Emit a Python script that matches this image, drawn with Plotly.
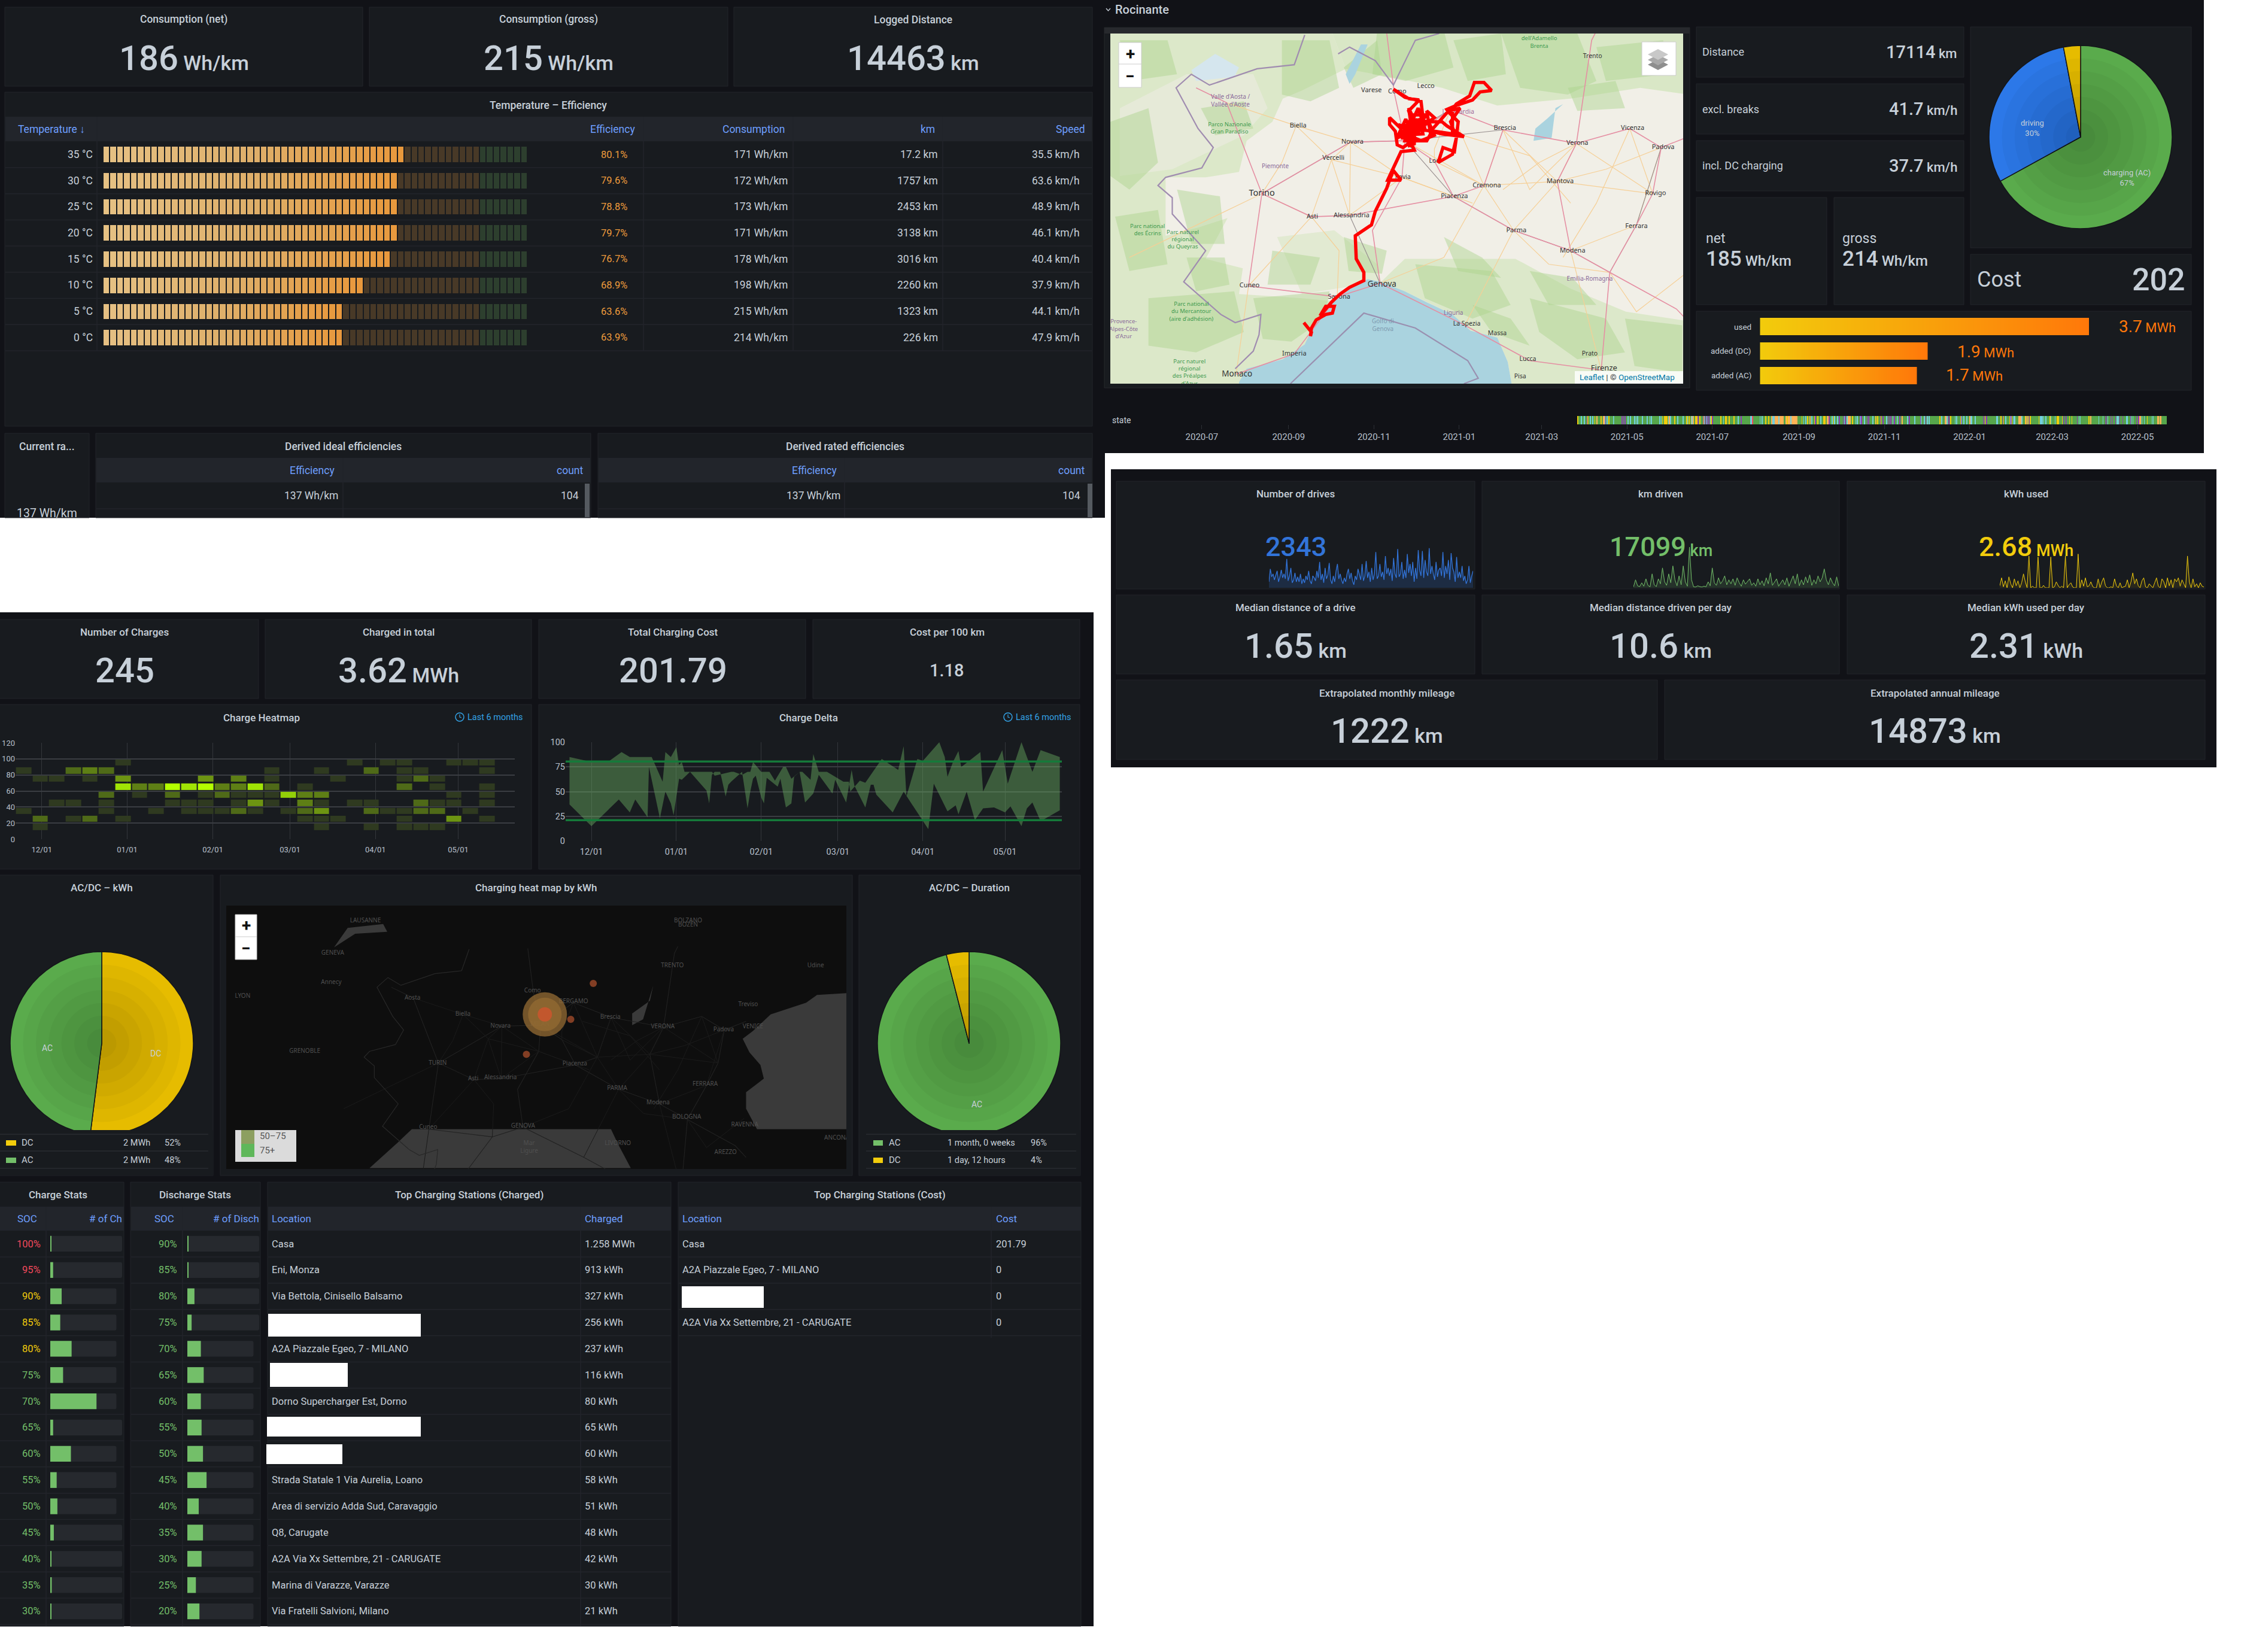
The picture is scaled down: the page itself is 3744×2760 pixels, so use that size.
import pandas as pd
import plotly.graph_objects as go

W, H = 3744, 2760
BG, PANEL, EDGE = "#111217", "#181b1f", "#22252b"
HEAD = "#22252b"
TXT, BLUE_H = "#c7d0d9", "#6e9fff"
GREEN, YELLOW, BLUE, ORANGE, RED = "#73bf69", "#f2cc0c", "#3274d9", "#ff780a", "#f2495c"

# ---------- data ----------
kpi_top = [("Consumption (net)", "186", "Wh/km"), ("Consumption (gross)", "215", "Wh/km"), ("Logged Distance", "14463", "km")]
temps = ["35 °C", "30 °C", "25 °C", "20 °C", "15 °C", "10 °C", "5 °C", "0 °C"]
efficiency = [80.1, 79.6, 78.8, 79.7, 76.7, 68.9, 63.6, 63.9]
consumption = [171, 172, 173, 171, 178, 198, 215, 214]
km_logged = ["17.2", "1757", "2453", "3138", "3016", "2260", "1323", "226"]
speed = [35.5, 63.6, 48.9, 46.1, 40.4, 37.9, 44.1, 47.9]

route_lon = [8.13,8.21,8.20,8.21,8.26,8.36,8.43,8.45,8.36,8.30,8.42,8.51,8.61,8.76,8.76,8.71,8.68,8.67,8.84,8.88,9.00,9.03,9.07,9.15,9.01,9.07,9.15,9.29,9.25,9.17,9.11,9.09,9.03,9.03,9.15,9.27,9.23,9.30,9.34,9.23,9.07,9.19,9.36,9.38,9.30,9.21,9.19,9.42,9.46,9.42,9.50,9.38,9.27,9.23,9.30,9.42,9.58,9.63,9.81,9.58,9.46,9.65,9.77,9.67,9.73,9.71,9.59,9.54,9.69,9.73,9.75,9.65,9.63,9.73,9.90,9.98,10.10,10.02,9.92,9.87,9.73,9.69,9.69,9.50,9.23,9.11,9.30,9.42,9.27,9.19,9.30,9.15,9.27,9.36,9.38,9.12,9.20,9.28,9.35,9.22,9.12,9.30,9.40,9.33,9.25,9.16,9.36,9.50,9.44,9.26,9.20,9.30,9.22]
route_lat = [44.12,44.05,44.02,44.08,44.14,44.18,44.19,44.24,44.24,44.17,44.27,44.33,44.38,44.43,44.49,44.55,44.59,44.76,44.84,44.94,45.11,45.17,45.24,45.17,45.17,45.26,45.38,45.39,45.45,45.41,45.43,45.53,45.58,45.63,45.55,45.60,45.68,45.73,45.76,45.77,45.84,45.78,45.75,45.63,45.57,45.51,45.46,45.46,45.51,45.68,45.63,45.57,45.51,45.70,45.60,45.60,45.60,45.57,45.49,45.51,45.53,45.68,45.70,45.60,45.48,45.38,45.41,45.30,45.36,45.48,45.60,45.67,45.69,45.72,45.76,45.82,45.83,45.89,45.89,45.79,45.73,45.69,45.51,45.53,45.55,45.48,45.55,45.65,45.65,45.53,45.48,45.48,45.53,45.58,45.51,45.50,45.62,45.47,45.62,45.55,45.58,45.52,45.55,45.70,45.58,45.52,45.46,45.50,45.60,45.62,45.47,45.44,45.42]

sea_lon = [7.45,7.53,7.91,8.14,8.20,8.30,8.45,8.65,8.80,8.94,9.19,9.42,9.69,9.88,10.16,10.27,10.31,10.31,7.45]
sea_lat = [43.68,43.78,43.85,43.96,44.05,44.17,44.28,44.39,44.44,44.42,44.35,44.27,44.18,44.06,44.01,43.83,43.67,43.6,43.6]
alps_w_lon = [6.1,8.42,8.57,8.11,7.91,7.80,7.53,7.45,7.10,6.68,6.68,7.02,7.33,7.10,7.49,7.45,8.11,8.42,8.14,7.91,7.53,7.45,6.1]
alps_w_lat = [46.27,46.27,45.99,45.83,45.77,45.60,45.46,45.23,45.19,45.19,44.76,44.82,44.89,44.59,44.52,44.33,44.30,44.28,43.96,43.85,43.78,43.67,43.67]
alps_n_lon = [8.42,12.17,12.17,11.66,10.93,10.16,9.58,9.11,8.57]
alps_n_lat = [46.27,46.27,45.80,45.85,45.77,45.72,45.85,45.92,45.99]
apen_lon = [8.94,9.19,9.78,10.35,10.93,11.51,12.17,12.17,10.31,10.27,10.16,9.88,9.69,9.42,9.19]
apen_lat = [44.42,44.59,44.59,44.59,44.37,44.20,44.13,43.67,43.67,43.83,44.01,44.06,44.18,44.27,44.35]
hills_lon = [7.85,8.45,8.90,8.94,8.65,8.11]
hills_lat = [44.75,44.80,44.55,44.42,44.39,44.33]
pale_lon = [6.9,7.6,7.75,7.5,7.05,6.75,6.2,6.2]
pale_lat = [45.95,45.95,45.7,45.5,45.35,45.25,45.2,45.7]
forest_lon = [[6.1,6.5,6.6,6.3,6.1],[7.9,8.4,8.5,8.2,7.9],[8.9,9.6,9.7,9.2,8.85],[10.2,11.0,11.2,10.9,10.4],[9.3,10.1,10.3,9.9,9.4],[10.5,11.3,11.5,11.0,10.6],[6.5,7.4,7.5,7.0,6.5],[7.6,8.4,8.35,8.0,7.7],[6.8,7.25,7.3,6.95],
              [7.05,7.5,7.6,7.2],[6.15,6.6,6.7,6.3],[6.2,6.7,6.8,6.3],[8.55,8.9,8.95,8.65],[9.7,10.2,10.25,9.85],[11.2,11.9,11.95,11.3],[10.9,11.4,11.5,11.0],[8.55,9.0,8.95,8.6],[9.6,10.0,10.2,9.75],[10.5,10.95,11.2,10.7],[11.5,12.1,12.1,11.6],[9.9,10.3,10.5,10.1],[6.9,7.3,7.35,7.0],[7.8,8.3,8.2,7.75]]
forest_lat = [[45.6,45.7,45.3,45.1,45.2],[46.2,46.2,45.85,45.75,45.8],[46.27,46.27,46.0,45.9,45.95],[46.25,46.25,45.9,45.8,45.85],[44.55,44.5,44.25,44.15,44.3],[44.3,44.15,43.9,43.85,44.05],[44.3,44.35,44.05,43.9,43.95],[44.3,44.35,44.15,43.98,44.0],[45.1,45.05,44.7,44.7],
              [45.7,45.75,45.55,45.5],[44.9,44.95,44.55,44.5],[46.2,46.2,45.95,45.9],[46.0,46.2,45.95,45.85],[46.2,46.25,45.95,45.9],[46.15,46.2,45.95,45.9],[45.85,45.9,45.7,45.68],[44.75,44.65,44.48,44.5],[44.75,44.6,44.45,44.5],[44.5,44.45,44.25,44.25],[44.15,44.1,43.75,43.8],[44.25,44.15,43.95,44.05],[44.6,44.6,44.4,44.35],[44.65,44.6,44.4,44.4]]
ice_lon = [6.95,7.2,7.45,7.4,7.0]
ice_lat = [45.98,46.1,46.0,45.93,45.9]
garda_lon = [10.54,10.73,10.77,10.85,10.68,10.56]
garda_lat = [45.46,45.48,45.70,45.73,45.62,45.55]
magg_lon = [8.61,8.67,8.80,8.73,8.57]
magg_lat = [45.88,45.95,46.17,46.17,45.95]
border_lon = [8.14,8.03,7.64,7.14,6.95,6.79,7.02,7.18,7.06,6.68,6.60,6.75,6.75,7.10,6.87,7.26,7.41,7.68,7.66,7.60,7.41]
border_lat = [46.24,46.02,45.99,45.87,45.95,45.85,45.55,45.41,45.26,45.19,45.13,45.04,44.92,44.65,44.42,44.18,44.12,44.18,44.03,43.91,43.78]
swiss_lon = [8.49,8.61,8.88,9.07,9.3,9.55]
swiss_lat = [46.10,46.15,46.05,45.87,46.2,46.25]
seaborder_lon = [7.99,8.76,9.30,9.85,9.96,9.81]
seaborder_lat = [43.67,44.19,44.08,43.84,43.71,43.67]
motor_lon = [7.69,8.62,9.19,9.67,10.22,10.99,11.55,11.88,12.2,None,9.19,9.50,9.70,10.33,10.93,11.34,11.25,None,7.69,8.21,8.61,9.70,10.02,10.22,None,9.19,9.16,8.85,8.93,None,7.42,8.03,8.48,8.93,9.82,10.50,11.25,None,7.69,7.55,8.48,None,10.99,10.79,10.93,None,11.88,11.79,11.62,11.34,12.04,12.2,None,7.69,7.32,7.0,None,9.19,9.08,9.0,None,10.99,11.12,11.15,11.2]
motor_lat = [45.07,45.45,45.46,45.69,45.54,45.44,45.55,45.41,45.5,None,45.46,45.31,45.05,44.80,44.65,44.49,43.77,None,45.07,44.90,44.91,45.05,45.13,45.54,None,45.46,45.19,44.8,44.41,None,43.74,43.89,44.31,44.41,44.10,43.84,43.77,None,45.07,44.39,44.31,None,45.44,45.16,44.65,None,45.41,45.07,44.84,44.49,44.22,44.1,None,45.07,45.74,45.85,None,45.46,45.81,46.25,None,45.44,46.07,46.2,46.27]
minor_lon = [8.62,8.42,8.61,None,10.02,10.79,11.79,None,10.33,9.82,None,10.93,11.25,None,10.22,10.02,10.33,None,9.16,9.70,None,9.50,10.02,None,10.79,10.99,None,11.62,10.93,None,8.21,7.55,None,8.05,8.42,None,7.55,7.42,None,7.32,8.05,8.62,None,6.3,7.69,8.21,None,10.22,10.5,10.99,None,9.67,9.5,9.50,None,10.02,9.6,8.93,None,11.55,11.2,10.85,None,11.34,11.62,12.17,
             None,8.42,9.16,None,8.62,9.16,9.9,None,9.19,10.02,None,9.67,10.02,None,10.22,10.79,None,10.79,10.33,None,9.16,8.61,None,8.61,8.62,None,10.99,11.79,None,11.55,11.79,None,11.88,11.62,None,8.21,8.42,None,7.69,7.9,8.05,None,10.99,10.6,10.22,None,11.88,11.3,10.79,None,10.33,10.7,11.34,None,8.21,8.5,8.48,None,9.8,10.5,10.93]
minor_lat = [45.45,45.32,44.91,None,45.13,45.16,45.07,None,44.80,44.10,None,44.65,43.77,None,45.54,45.13,44.80,None,45.19,45.05,None,45.31,45.13,None,45.16,45.44,None,44.84,44.65,None,44.90,44.39,None,45.57,45.32,None,44.39,43.74,None,45.74,45.57,45.45,None,44.6,45.07,44.90,None,45.54,45.1,45.44,None,45.69,45.4,45.31,None,45.13,44.6,44.41,None,45.55,45.0,44.6,None,44.49,44.2,44.5,
             None,45.32,45.19,None,45.45,45.19,45.0,None,45.46,45.13,None,45.69,45.13,None,45.54,45.16,None,45.16,44.80,None,45.19,44.91,None,44.91,45.45,None,45.44,45.07,None,45.55,45.07,None,45.41,44.84,None,44.90,45.32,None,45.07,45.3,45.57,None,45.44,45.3,45.1,None,45.41,45.25,45.16,None,44.80,44.55,44.49,None,44.90,44.65,44.31,None,45.5,45.35,45.0]
rail_lon = [9.19,9.70,10.33,10.93,11.34,None,7.69,8.62,9.19,10.22,None,8.61,8.93,None,11.34,11.62,11.88,None,9.19,9.45,9.67]
rail_lat = [45.46,45.05,44.80,44.65,44.49,None,45.07,45.45,45.46,45.54,None,44.91,44.41,None,44.49,44.84,45.41,None,45.46,45.6,45.69]

place_names = ["Genova","Torino","Novara","Vercelli","Biella","Varese","Como","Lecco","Brescia","Verona","Vicenza","Padova","Mantova","Cremona","Piacenza","Parma","Modena","Ferrara","Rovigo","Alessandria","Asti","Cuneo","Savona","Imperia","Monaco","La Spezia","Massa","Lucca","Pisa","Prato","Firenze","Trento","Pavia","Lodi","Lombardia","Emilia-Romagna","Liguria","Piemonte","Golfo di<br>Genova","Valle d'Aosta /<br>Vallée d'Aoste","Parco Nazionale<br>Gran Paradiso","Parc naturel<br>régional<br>du Queyras","Parc national<br>des Écrins","Parc national<br>du Mercantour<br>(aire d'adhésion)","Parc naturel<br>régional<br>des Préalpes<br>d'Azur","Provence-<br>Alpes-Côte<br>d'Azur","Parco naturale<br>dell'Adamello<br>Brenta"]
place_lon = [8.95,7.69,8.64,8.44,8.07,8.84,9.11,9.41,10.24,11.0,11.58,11.9,10.82,10.05,9.71,10.36,10.95,11.62,11.82,8.63,8.22,7.56,8.50,8.03,7.43,9.84,10.16,10.48,10.40,11.13,11.28,11.16,9.17,9.51,9.75,11.13,9.70,7.83,8.96,7.36,7.35,6.86,6.49,6.95,6.93,6.24,10.6]
place_lat = [44.40,45.07,45.45,45.33,45.57,45.83,45.82,45.86,45.55,45.44,45.55,45.41,45.16,45.13,45.05,44.80,44.65,44.83,45.07,44.91,44.90,44.39,44.31,43.89,43.74,44.11,44.04,43.85,43.72,43.89,43.78,46.08,45.19,45.31,45.67,44.44,44.19,45.27,44.10,45.75,45.55,44.73,44.80,44.20,43.75,44.07,46.21]

power_labels = ["charging (AC)", "driving", "charging (DC)"]
power_share = [67, 30, 3]
energy_labels = ["used", "added (DC)", "added (AC)"]
energy_mwh = [3.7, 1.89, 1.76]
energy_text = ["3.7", "1.9", "1.7"]

state_colors = {"G": "#56a64b", "C": "#73d0e0", "P": "#8f3bb8", "Y": "#f2cc0c", "O": "#ffb357", "R": "#f2495c"}
state_part1 = ("Y21 G36 C39 G51 C54 G66 P69 Y71 G81 C84 G93 C96 G103 C105 Y108 G113 O117 G132 Y138 G144 O154 C157 P160 G162 C170 G174 Y177 G197 C200 "
 "G240 P243 G249 P252 G255 P258 G270 C273 G282 C285 G303 C306 G312 C315 G318 C321 G342 C345 G363 C369 G381 C384 G387 C390 G429 C432 G438 C441 G444 Y447 G450 Y468 "
 "G474 C477 O480 C486 G504 Y507 G519 C522 G546 C549 G561 Y570 C573 G576 Y579 G588 O591 C594 O600 G606 Y621 P624 G630 Y633 G648 P651 Y654 C657 P660 G663 P666 C669 "
 "P672 G675 P678 G684 C687 Y690 P696 G735 Y738 G750 C753 G756 Y767 G777 Y780 G801 Y804 G822 C825 G837 P840 G882 C894 R897 G930 C936 G939 C945 G960 Y963 G972 Y978 "
 "G987 O993 C1005 O1026 C1029 O1050 G1062 O1065 Y1071 O1086 C1089 O1119 G1140 Y1146 G1149 C1155 G1158 C1164 G1170 Y1173 G1179 O1185 G1191 C1194 G1206 Y1209 P1212 "
 "G1221 Y1224 G1236 C1239 G1248 Y1260 G1266 O1278 P1281 G1293 C1296 G1302 Y1305 C1308 G1320 C1323 G1329 P1332 G1350 P1353 G1356 C1359 P1362 G1368 C1371 O1386 G1395 "
 "Y1398 G1413 C1416 G1419 C1422 G1434 P1437 C1440 P1443 G1455 C1458 G1470 P1473 G1476 P1479 G1497 C1500")
state_part2 = ("G27 O30 Y33 G36 Y39 G51 P54 Y57 G60 P66 G81 C84 G90 P93 G96 P99 G102 P105 G114 C117 G120 P123 G135 C137 G144 P150 G156 O162 G186 C189 G195 P198 G222 C225 G250 "
 "P253 C256 G270 C273 G279 P282 G285 C288 G294 C297 G345 Y351 G357 C360 G372 O384 C387 G393 P396 G402 Y405 G426 C429 G432 C435 G453 Y456 P459 C462 G465 C471 G483 C486 "
 "G498 O501 C510 G525 C528 G567 P570 G573 P576 Y579 G582 P585 G630 C639 G651 Y657 G663 P669 Y672 G675 C681 G696 Y702 P705 C708 P711 Y714 G716 C726 G741 O756 C762 G774 "
 "Y780 O784 G786 O792 G798 P801 Y804 G843 Y846 G849 C852 C864 G867 C870 G876 C882 G897 Y903 C906 G924 C927 G933 Y945 G960 Y963 G966 P969 G975 P978 G981 P984 G996 Y999 "
 "G1008 Y1011 G1035 P1038 G1044 C1047 G1050 C1053 G1092 Y1098 G1101 O1107 G1143 C1146 G1164 C1167 G1176 P1179 G1182 P1185 G1188 C1191 G1204 P1207 G1212 P1215 G1227 P1230 "
 "G1233 C1245 G1248 P1251 G1263 P1266 G1281 C1290 G1302 P1305 C1308 G1314 C1317 G1332 P1335 G1341 P1347 O1356 G1359 C1362 G1371 C1374 G1386 Y1389 G1410 C1413 G1416 C1419 "
 "G1437 O1446 G1449 O1458 G1485")
month_ticks = ["2020-07","2020-09","2020-11","2021-01","2021-03","2021-05","2021-07","2021-09","2021-11","2022-01","2022-03","2022-05"]

drives_spark = [30,95,55,70,40,60,85,30,55,90,50,70,45,145,35,60,100,25,40,75,30,55,30,70,20,45,25,60,40,85,35,20,60,50,35,85,50,130,40,70,25,100,45,65,125,40,20,60,30,85,120,45,70,40,20,50,30,70,95,45,75,35,15,60,40,95,70,40,120,35,60,135,50,80,30,100,40,70,180,45,60,120,55,80,40,160,70,100,60,95,35,150,70,50,195,55,70,130,45,90,50,170,75,120,60,130,30,100,45,190,90,60,185,50,140,80,60,200,70,110,70,40,130,55,90,100,60,180,50,110,70,140,40,175,100,80,30,155,50,80,50,110,35,60,20,40,110,25,60,85]
km_spark = [4,40,10,6,25,8,45,12,5,70,15,6,45,20,100,30,12,70,25,110,40,10,60,15,110,30,8,205,40,5,4,10,6,4,8,5,30,10,100,25,12,50,20,35,60,15,40,20,45,12,50,25,8,40,18,30,45,12,25,8,45,15,35,10,50,20,75,12,30,45,8,25,40,15,50,8,35,60,20,70,10,40,15,55,25,65,12,40,20,60,30,50,95,40,15,50,25,10,55,8]
kwh_spark = [10,50,5,35,0,55,20,0,45,10,35,0,25,70,30,0,160,0,8,0,0,155,0,0,12,0,0,0,155,0,5,30,12,0,8,0,160,0,15,25,4,0,0,170,0,40,8,50,5,10,30,6,0,0,45,0,30,50,10,0,0,5,0,45,10,0,25,0,5,8,40,0,30,75,20,45,10,0,35,50,5,0,20,10,0,25,50,8,0,45,30,0,50,10,40,0,45,30,50,8,40,20,0,160,30,0,45,5,20,0,25,8,4]

kpi_mid = [("Median distance of a drive", "1.65", "km"), ("Median distance driven per day", "10.6", "km"), ("Median kWh used per day", "2.31", "kWh")]
kpi_low = [("Extrapolated monthly mileage", "1222", "km"), ("Extrapolated annual mileage", "14873", "km")]
charge_kpi = [("Number of Charges", "245", ""), ("Charged in total", "3.62", "MWh"), ("Total Charging Cost", "201.79", ""), ("Cost per 100 km", "1.18", "")]

heat_bins = [15, 25, 35, 45, 55, 65, 75, 85, 95]
heat_cells = {
    95: {6:1, 20:1, 22:1, 23:1, 26:1, 27:1, 28:1},
    85: {0:1, 3:3, 4:4, 5:3, 15:1, 18:1, 21:3, 23:1, 24:1, 28:1},
    75: {1:1, 2:1, 4:1, 6:5, 11:5, 13:4, 15:1, 19:1, 23:1, 24:3, 25:1},
    65: {6:9, 7:4, 8:4, 9:11, 10:9, 11:11, 12:4, 13:4, 14:9, 15:3, 17:1, 23:3, 25:1, 28:1},
    55: {5:3, 7:1, 9:3, 11:1, 12:3, 13:1, 14:1, 15:1, 16:8, 17:4, 18:4, 26:1, 28:1},
    45: {2:1, 3:1, 5:1, 9:1, 10:1, 11:1, 13:1, 14:5, 15:1, 17:4, 18:1, 20:1, 21:1, 24:3, 25:1, 26:1, 28:1},
    35: {0:1, 5:1, 8:1, 10:1, 11:1, 12:1, 13:3, 14:1, 16:1, 17:3, 18:5, 21:3, 22:1, 23:1, 24:3, 25:3, 27:1},
    25: {1:3, 3:1, 4:3, 6:1, 17:1, 18:1, 19:1, 23:1, 26:5, 28:1},
    15: {1:1, 18:1, 21:1, 23:1, 24:1, 25:1},
}
month_days = ["2021-12-01","2022-01-01","2022-02-01","2022-03-01","2022-04-01","2022-05-01"]

delta_up_date = ["2021-11-23","2021-12-01","2021-12-07","2021-12-12","2021-12-15","2021-12-23","2021-12-27","2021-12-28","2021-12-30","2022-01-01","2022-01-02","2022-01-03","2022-01-04","2022-01-05","2022-01-14","2022-01-15","2022-01-21","2022-01-22","2022-01-25","2022-01-27","2022-01-28","2022-01-29","2022-02-01","2022-02-04","2022-02-06","2022-02-09","2022-02-10","2022-02-12","2022-02-15","2022-02-16","2022-02-19","2022-02-20","2022-02-22","2022-02-25","2022-03-03","2022-03-05","2022-03-05 12:00","2022-03-09","2022-03-10","2022-03-11","2022-03-17","2022-03-23","2022-03-25","2022-03-26","2022-03-30","2022-04-01","2022-04-07","2022-04-09","2022-04-10","2022-04-12","2022-04-14","2022-04-15","2022-04-16","2022-04-22","2022-04-23","2022-04-30","2022-05-02","2022-05-07","2022-05-11","2022-05-14","2022-05-21"]
delta_up_val = [85,80,80,90,85,85,60,90,85,95,77,80,70,70,70,66,70,70,67,70,70,80,70,70,61,75,75,63,70,70,62,88,70,70,60,60,50,61,60,59,83,72,96,45,83,81,100,85,65,80,91,75,77,90,50,92,58,100,70,92,85]
delta_lo_date = ["2021-12-21 12:00","2021-12-22","2021-12-26","2021-12-28","2021-12-30","2021-12-31","2022-01-02","2022-01-03","2022-01-06","2022-01-12","2022-01-13","2022-01-14","2022-01-15","2022-01-17","2022-01-19","2022-01-20","2022-01-21","2022-01-25","2022-01-27","2022-01-28","2022-01-29","2022-01-30","2022-02-01","2022-02-02","2022-02-03","2022-02-07","2022-02-08","2022-02-10","2022-02-12","2022-02-13","2022-02-15","2022-02-17","2022-02-20","2022-02-22","2022-02-27","2022-02-28","2022-03-04","2022-03-06","2022-03-07","2022-03-11","2022-03-13","2022-03-14","2022-03-15","2022-03-21","2022-03-25","2022-03-29","2022-04-03","2022-04-05","2022-04-10","2022-04-13","2022-04-14","2022-04-17","2022-04-20","2022-04-23","2022-04-27","2022-05-01","2022-05-03","2022-05-07","2022-05-09","2022-05-11","2022-05-14","2022-05-21"]
delta_lo_val = [24,75,23,50,38,26,63,62,70,51,38,67,70,70,45,57,60,70,33,50,63,66,44,38,64,55,63,34,38,65,70,39,48,67,48,62,39,72,56,34,57,57,47,29,50,33,12,58,30,36,27,50,21,33,34,29,35,15,33,39,20,31]
delta_lo_head_date = ["2021-11-23","2021-12-01","2021-12-11","2021-12-15","2021-12-17"]
delta_lo_head_val = [37,15,42,29,42]
delta_thresholds = [80.5, 21]

pie_kwh_labels, pie_kwh_values = ["DC", "AC"], [52, 48]
pie_dur_labels, pie_dur_values = ["AC", "DC"], [96, 4]

adri_lon = [13.67,13.24,13.08,12.56,12.30,12.15,12.25,12.41,12.46,12.20,12.20,12.36,13.67]
adri_lat = [45.79,45.77,45.69,45.57,45.40,45.32,45.18,45.05,44.91,44.77,44.60,44.39,44.39]
lig_lon = [7.30,7.09,6.68,10.51,10.32,10.22]
lig_lat = [44.39,44.25,43.99,43.99,44.24,44.39]
leman_lon = [6.26,6.36,6.88,6.94,6.47,6.16]
leman_lat = [46.36,46.46,46.50,46.42,46.40,46.26]
garda2_lon = [10.53,10.69,10.84,10.79,10.53]
garda2_lat = [45.46,45.52,45.87,45.71,45.58]
dark_names = ["LAUSANNE","GENEVA","BOLZANO","BOZEN","TRENTO","Udine","Annecy","LYON","Aosta","Como","BERGAMO","Biella","Brescia","Treviso","Novara","MILAN","VERONA","Padova","VENICE","GRENOBLE","TURIN","Piacenza","Asti","Alessandria","FERRARA","PARMA","Modena","BOLOGNA","RAVENNA","Cuneo","GENOVA","ANCONA","LIVORNO","AREZZO","Mar<br>Ligure"]
dark_lon = [6.62,6.14,11.35,11.35,11.12,13.22,6.12,4.82,7.31,9.07,9.67,8.05,10.21,12.23,8.60,9.18,10.98,11.87,12.3,5.73,7.68,9.69,8.2,8.6,11.6,10.31,10.91,11.33,12.18,7.54,8.93,13.53,10.32,11.9,9.02]
dark_lat = [46.53,46.2,46.53,46.49,46.07,46.07,45.9,45.76,45.74,45.81,45.7,45.57,45.54,45.67,45.45,45.47,45.44,45.41,45.44,45.19,45.07,45.06,44.91,44.92,44.85,44.81,44.66,44.51,44.43,44.41,44.42,44.3,44.24,44.15,44.2]
spot_lon = [9.96, 9.63, 8.98]
spot_lat = [45.89, 45.52, 45.16]
core_lon, core_lat = [9.25], [45.57]

charge_soc = [100,95,90,85,80,75,70,65,60,55,50,45,40,35,30]
charge_counts = [1,4,16,14,30,18,65,4,29,9,10,5,1,2,1]
charge_track = [101,101,93,93,93,93,93,101,93,93,93,101,101,101,101]
discharge_soc = [90,85,80,75,70,65,60,55,50,45,40,35,30,25,20]
discharge_counts = [1,1,10,6,19,23,19,20,22,27,16,22,20,12,17]
discharge_track = [101,101,101,101,93,93,93,93,93,93,93,93,93,93,93]
stations = ["Casa","Eni, Monza","Via Bettola, Cinisello Balsamo","","A2A Piazzale Egeo, 7 - MILANO","","Dorno Supercharger Est, Dorno","","","Strada Statale 1 Via Aurelia, Loano","Area di servizio Adda Sud, Caravaggio","Q8, Carugate","A2A Via Xx Settembre, 21 - CARUGATE","Marina di Varazze, Varazze","Via Fratelli Salvioni, Milano"]
charged = ["1.258 MWh","913 kWh","327 kWh","256 kWh","237 kWh","116 kWh","80 kWh","65 kWh","60 kWh","58 kWh","51 kWh","48 kWh","42 kWh","30 kWh","21 kWh"]
cost_names = ["Casa","A2A Piazzale Egeo, 7 - MILANO","","A2A Via Xx Settembre, 21 - CARUGATE"]
cost_vals = ["201.79","0","0","0"]

# ---------- helpers ----------
fig = go.Figure()
shapes, notes = [], []
ax_n = [1]
px = lambda x: x / W
py = lambda y: 1 - y / H

def rect(x0, y0, x1, y1, fill=PANEL, line=None, above=False):
    shapes.append(dict(type="rect", xref="paper", yref="paper", x0=px(x0), x1=px(x1), y0=py(y0), y1=py(y1),
                       fillcolor=fill, line=dict(color=line or fill, width=1 if line else 0), layer="above" if above else "below"))

def panel(x0, y0, x1, y1):
    rect(x0, y0, x1, y1, PANEL, EDGE)

def hline(x0, x1, y, color=EDGE, w=1.5, above=False):
    shapes.append(dict(type="line", xref="paper", yref="paper", x0=px(x0), x1=px(x1), y0=py(y), y1=py(y), line=dict(color=color, width=w), layer="above" if above else "below"))

def vline(x, y0, y1, color=EDGE, w=1.5):
    shapes.append(dict(type="line", xref="paper", yref="paper", x0=px(x), x1=px(x), y0=py(y0), y1=py(y1), line=dict(color=color, width=w), layer="below"))

def T(x, y, s, size=17.5, color=TXT, anchor="center", weight=400):
    notes.append(dict(xref="paper", yref="paper", x=px(x), y=py(y), text=s, showarrow=False, xanchor=anchor, yanchor="middle",
                      font=dict(family="Roboto", size=size, color=color, weight=weight), borderpad=0, borderwidth=0, align="center"))

def big(x, y, num, unit="", size=58, usize=34, color=TXT, anchor="center", weight=500):
    s = num + (f'<span style="font-size:{usize}px"> {unit}</span>' if unit else "")
    T(x, y, s, size, color, anchor, weight)

def axes(x0, y0, x1, y1, xo=None, yo=None):
    ax_n[0] += 1
    n = ax_n[0]
    base = dict(visible=False, fixedrange=True, showgrid=False, zeroline=False, automargin=False)
    xa = dict(base, domain=[px(x0), px(x1)], anchor=f"y{n}")
    ya = dict(base, domain=[py(y1), py(y0)], anchor=f"x{n}")
    xa.update(xo or {})
    ya.update(yo or {})
    fig.update_layout(**{f"xaxis{n}": xa, f"yaxis{n}": ya})
    return f"x{n}", f"y{n}"

def clock(cx, cy, r=7, col="#33a2e5"):
    shapes.append(dict(type="circle", xref="paper", yref="paper", x0=px(cx - r), x1=px(cx + r), y0=py(cy + r), y1=py(cy - r), line=dict(color=col, width=1.5), fillcolor="rgba(0,0,0,0)", layer="above"))
    shapes.append(dict(type="path", xref="paper", yref="paper", line=dict(color=col, width=1.2), layer="above",
                       path=f"M {px(cx)} {py(cy-4.5)} L {px(cx)} {py(cy)} L {px(cx+3)} {py(cy+1)}"))

# ---------- block backgrounds ----------
rect(0, 0, 1846, 865, BG)
rect(1840, 0, 3682, 757, BG)
rect(1856, 784, 3703, 1282, BG)
rect(0, 1023, 1827, 2717, BG)

# ---------- top-left block ----------
for (title, num, unit), (a, b) in zip(kpi_top, [(8, 606), (617, 1216), (1226, 1825)]):
    panel(a, 12, b, 144)
    T((a + b) / 2, 33, title, 17.5, TXT, "center", 500)
    big((a + b) / 2, 97, num, unit)

panel(8, 154, 1825, 712)
T(916, 176, "Temperature – Efficiency", 17.5, TXT, "center", 500)
rect(9, 195, 1824, 236, HEAD)
T(30, 216, "Temperature ↓", 17.5, BLUE_H, "left")
T(1061, 216, "Efficiency", 17.5, BLUE_H, "right")
T(1312, 216, "Consumption", 17.5, BLUE_H, "right")
T(1562, 216, "km", 17.5, BLUE_H, "right")
T(1813, 216, "Speed", 17.5, BLUE_H, "right")
row_ys = [258 + 43.7 * i for i in range(8)]
for i, y in enumerate(row_ys):
    hline(9, 1824, y + 22)
    T(155, y, temps[i], 17.5, TXT, "right")
    T(1048, y, f"{efficiency[i]}%", 16.5, "#ee9b3c", "right")
    T(1316, y, f"{consumption[i]} Wh/km", 17.5, TXT, "right")
    T(1567, y, f"{km_logged[i]} km", 17.5, TXT, "right")
    T(1804, y, f"{speed[i]} km/h", 17.5, TXT, "right")
for x in (162, 1075, 1325, 1575):
    vline(x, 195, 586)

GAUGE_MAX, SEGS = 113.6, 62
seg_vals = [(k + 0.5) * GAUGE_MAX / SEGS for k in range(SEGS)]
gz = []
for e in efficiency:
    row = []
    for v in seg_vals:
        row.append(0.5 + 0.5 * v / e if v < e else (0.1 if v < 100 else 0.35))
    gz.append(row)
xa, ya = axes(172, 236, 881, 586, dict(range=[0, GAUGE_MAX]), dict(range=[7.5, -0.5]))
fig.add_trace(go.Heatmap(x=seg_vals, y=list(range(8)), z=gz, zmin=0, zmax=1, xgap=2, ygap=18, showscale=False, hoverinfo="skip",
                         colorscale=[[0, "#4a3a27"], [.24, "#463727"], [.25, "#2d3f2e"], [.49, "#2d3f2e"], [.5, "#e6c184"], [.75, "#deaf6a"], [1, "#e8983c"]],
                         xaxis=xa, yaxis=ya))

for a, b, t in [(8, 149, "Current ra..."), (160, 987, "Derived ideal efficiencies"), (999, 1825, "Derived rated efficiencies")]:
    panel(a, 724, b, 865)
    T((a + b) / 2, 746, t, 17.5, TXT, "center", 500)
T(78, 857, "137 Wh/km", 19.5)
for a, b, c, e, r, s in [(160, 987, 573, 559, 974, 977), (999, 1825, 1411, 1398, 1812, 1817)]:
    rect(a + 1, 765, b - 1, 806, HEAD)
    vline(c, 765, 865)
    hline(a + 1, b - 1, 850)
    T(e, 786, "Efficiency", 17.5, BLUE_H, "right")
    T(r, 786, "count", 17.5, BLUE_H, "right")
    T(e + 6, 828, "137 Wh/km", 17.5, TXT, "right")
    T(r - 7, 828, "104", 17.5, TXT, "right")
    rect(s, 808, s + 8, 864, "#555a60")

# ---------- map 1 ----------
T(1863, 16, "Rocinante", 20, TXT, "left", 500)
shapes.append(dict(type="path", xref="paper", yref="paper", line=dict(color=TXT, width=1.3), layer="above",
                   path=f"M {px(1848)} {py(14)} L {px(1851.5)} {py(18)} L {px(1855)} {py(14)}"))
rect(1845, 46, 2823, 648, "#181b1f", "#26282c")
rect(1845, 46, 2823, 56, "#27292d")
rect(1855, 56, 2812, 641, "#f1efe7")
xa, ya = axes(1855, 56, 2812, 641, dict(range=[6.1, 12.11]), dict(range=[43.67, 46.25]))
def poly(lon, lat, color, a=None, b=None):
    fig.add_trace(go.Scatter(x=lon, y=lat, mode="lines", fill="toself", fillcolor=color, line=dict(width=0), hoverinfo="skip", showlegend=False, xaxis=a or xa, yaxis=b or ya))
def path(lon, lat, color, w, a=None, b=None, dash=None):
    fig.add_trace(go.Scatter(x=lon, y=lat, mode="lines", line=dict(color=color, width=w, dash=dash), hoverinfo="skip", showlegend=False, connectgaps=False, xaxis=a or xa, yaxis=b or ya))
poly(alps_w_lon, alps_w_lat, "#dce8c9")
poly(pale_lon, pale_lat, "#e6ead8")
poly(alps_n_lon, alps_n_lat, "#d9e7c6")
poly(apen_lon, apen_lat, "#dce8ca")
poly(hills_lon, hills_lat, "#e2ead2")
for flo, fla in zip(forest_lon, forest_lat):
    poly(flo, fla, "rgba(170,210,140,0.45)")
poly(ice_lon, ice_lat, "#d5e6ee")
poly(sea_lon, sea_lat, "#aad3df")
poly(garda_lon, garda_lat, "#aad3df")
poly(magg_lon, magg_lat, "#aad3df")
path(minor_lon, minor_lat, "#f6cf96", 1.2)
path(rail_lon, rail_lat, "#999090", 1.2)
path(motor_lon, motor_lat, "#e58fa3", 1.6)
path(border_lon, border_lat, "#a08cb0", 2.2)
path(swiss_lon, swiss_lat, "#a08cb0", 2.2)
path(seaborder_lon, seaborder_lat, "#9a90b0", 2.2)
place_colors = ["#333"] * 34 + ["#a06a9a", "#8a6a9a", "#8a6a9a", "#8a6a9a", "#7f9bb0", "#8a6a9a"] + ["#3f9a4f"] * 5 + ["#8a6a9a", "#3f9a4f"]
place_sizes = [13.5, 14.5] + [11] * 22 + [13.5] + [10.5] * 5 + [13] + [10.5] * 4 + [10] * 5 + [9.5] * 7
fig.add_trace(go.Scatter(x=place_lon, y=place_lat, mode="text", text=place_names, textposition="middle center", cliponaxis=True,
                         textfont=dict(family="Noto Sans", size=place_sizes, color=place_colors), hoverinfo="skip", showlegend=False, xaxis=xa, yaxis=ya))
fig.add_trace(go.Scatter(x=route_lon, y=route_lat, mode="lines", line=dict(color="#ff0000", width=5.5), hoverinfo="skip", showlegend=False, xaxis=xa, yaxis=ya))
rect(1869, 71, 1907, 146, "#ffffff", "#cccccc", True)
hline(1869, 1907, 107, "#cccccc", 1, True)
T(1888, 90, "+", 28, "#111111", "center", 700)
T(1888, 127, "−", 28, "#111111", "center", 700)
rect(2743, 70, 2800, 126, "#ffffff", "#cccccc", True)
for dy, c in [(10, "#8e8e8e"), (2, "#a8a8a8"), (-7, "#c8c8c8")]:
    cx, cy = 2770, 98 + dy
    shapes.append(dict(type="path", xref="paper", yref="paper", layer="above", fillcolor=c, line=dict(width=0),
                       path=f"M {px(cx-17)} {py(cy)} L {px(cx)} {py(cy-9)} L {px(cx+17)} {py(cy)} L {px(cx)} {py(cy+9)} Z"))
rect(2631, 620, 2812, 641, "rgba(255,255,255,0.8)", None, True)
T(2639, 630, '<span style="color:#0078a8">Leaflet</span> | © <span style="color:#0078a8">OpenStreetMap</span>', 13.5, "#333333", "left")

# right-hand stat panels
for (lab, num, unit), (a, b) in zip([("Distance", "17114", "km"), ("excl. breaks", "41.7", "km/h"), ("incl. DC charging", "37.7", "km/h")], [(45, 129), (140, 224), (235, 319)]):
    panel(2834, a, 3281, b)
    T(2844, (a + b) / 2, lab, 18, TXT, "left")
    big(3270, (a + b) / 2, num, unit, 29, 22, TXT, "right")
panel(2834, 330, 3052, 509)
panel(3064, 330, 3281, 509)
T(2850, 398, "net", 23, TXT, "left")
big(2850, 433, "185", "Wh/km", 35, 24, TXT, "left")
T(3078, 398, "gross", 23, TXT, "left")
big(3078, 433, "214", "Wh/km", 35, 24, TXT, "left")
panel(3292, 45, 3661, 414)
def pie(cx, cy, r, labels, vals, cols):
    fig.add_trace(go.Pie(labels=labels, values=vals, sort=False, direction="clockwise", rotation=0, textinfo="none", showlegend=False, hoverinfo="skip",
                         marker=dict(colors=cols, line=dict(color="#14161a", width=1.5)),
                         domain=dict(x=[px(cx - r), px(cx + r)], y=[py(cy + r), py(cy - r)])))
    # darker centre: stacked translucent discs, like the reference's radial gradient
    for k in range(1, 7):
        rr = r * (1 - k * 0.14)
        fig.add_trace(go.Pie(values=[1], sort=False, textinfo="none", showlegend=False, hoverinfo="skip", marker=dict(colors=["rgba(0,0,0,0.032)"], line=dict(width=0)),
                             domain=dict(x=[px(cx - rr), px(cx + rr)], y=[py(cy + rr), py(cy - rr)])))
pie(3476, 229, 153, power_labels, power_share, ["#5aab4c", "#2c78e8", "#e6bc00"])
T(3395, 214, f"driving<br>{power_share[1]}%", 13, TXT)
T(3553, 297, f"charging (AC)<br>{power_share[0]}%", 13, TXT)
panel(3292, 425, 3661, 509)
T(3303, 467, "Cost", 36, TXT, "left")
big(3651, 467, "202", "", 52, 0, TXT, "right")
panel(2834, 520, 3661, 652)
grid_x = [k * 0.02 for k in range(1, 186)]
ez = [[(g / m if g <= m + 0.005 else None) for g in grid_x] for m in energy_mwh]
xa2, ya2 = axes(2939, 525, 3490, 648, dict(range=[0, 3.7]), dict(range=[2.5, -0.5]))
fig.add_trace(go.Heatmap(x=grid_x, y=[0, 1, 2], z=ez, zmin=0, zmax=1, ygap=12, showscale=False, hoverinfo="skip", hoverongaps=False,
                         colorscale=[[0, "#f2cc0c"], [1, "#ff780a"]], xaxis=xa2, yaxis=ya2))
for lab, y in zip(energy_labels, [546, 586, 627]):
    T(2926, y, lab, 13.5, TXT, "right")
for txt, x, y in zip(energy_text, [3540, 3270, 3251], [546, 587, 627]):
    big(x, y, txt, "MWh", 28, 22, ORANGE, "left", 400)

# state timeline
T(1858, 702, "state", 14, TXT, "left")
t0 = pd.Timestamp("2021-03-26 19:00")
UNIT_HOURS = 3.424
runs = [(t[0], int(t[1:])) for t in state_part1.split()] + [(t[0], int(t[1:]) + 1485) for t in state_part2.split()]
prev = 18
st_base, st_len, st_col = [], [], []
for code, end in runs:
    st_base.append((t0 + pd.Timedelta(hours=(prev - 18) * UNIT_HOURS)).isoformat())
    st_len.append((end - prev) * UNIT_HOURS * 3600e3)
    st_col.append(state_colors[code])
    prev = end
xa3, ya3 = axes(1960, 695, 3640, 709,
                dict(visible=True, type="date", range=["2020-06-10 12:00", "2022-05-30 12:00"], tickvals=[m + "-01" for m in month_ticks], tickformat="%Y-%m",
                     ticks="outside", ticklen=7, tickcolor="#2c2f35", tickfont=dict(family="Roboto", size=15, color="#b8c0cc"), showline=False),
                dict(range=[-0.5, 0.5]))
fig.add_trace(go.Bar(x=st_len, y=[0] * len(st_len), base=st_base, orientation="h", width=1, marker=dict(color=st_col, line=dict(width=0)),
                     hoverinfo="skip", showlegend=False, xaxis=xa3, yaxis=ya3))

# ---------- middle-right block ----------
for (t, a, b) in [("Number of drives", 1865, 2464), ("km driven", 2476, 3073), ("kWh used", 3086, 3684)]:
    panel(a, 804, b, 984)
    T((a + b) / 2, 825, t, 17, TXT, "center", 500)
spark_boxes = [(2120, 2461, BLUE, "rgba(50,116,217,0.2)", drives_spark, 1.3), (2729, 3072, GREEN, "rgba(115,191,105,0.15)", km_spark, 1), (3341, 3682, YELLOW, "rgba(242,204,12,0.08)", kwh_spark, 1)]
for a, b, col, fc, data, lw in spark_boxes:
    xs, ys = axes(a, 914, b, 982, dict(range=[0, len(data) - 1]), dict(range=[0, 205]))
    fig.add_trace(go.Scatter(x=list(range(len(data))), y=data, mode="lines", fill="tozeroy", fillcolor=fc, line=dict(color=col, width=lw), hoverinfo="skip", showlegend=False, xaxis=xs, yaxis=ys))
for (a, b), num, unit, col in zip([(1865, 2464), (2476, 3073), (3086, 3684)], ["2343", "17099", "2.68"], ["", "km", "MWh"], [BLUE, GREEN, YELLOW]):
    big((a + b) / 2, 913, num, unit, 45, 27, col)
for (t, num, unit), (a, b) in zip(kpi_mid, [(1865, 2464), (2476, 3073), (3086, 3684)]):
    panel(a, 994, b, 1126)
    T((a + b) / 2, 1015, t, 17, TXT, "center", 500)
    big((a + b) / 2, 1079, num, unit)
for (t, num, unit), (a, b) in zip(kpi_low, [(1865, 2769), (2781, 3684)]):
    panel(a, 1136, b, 1269)
    T((a + b) / 2, 1158, t, 17, TXT, "center", 500)
    big((a + b) / 2, 1221, num, unit)

# ---------- charging block ----------
for (t, num, unit), (a, b), cx in zip(charge_kpi, [(-2, 432), (443, 888), (900, 1346), (1358, 1804)], [208, 666, 1124, 1582]):
    panel(a, 1035, b, 1167)
    T(cx, 1056, t, 17, TXT, "center", 500)
    big(cx, 1120, num, unit, 29 if num == "1.18" else 58)
panel(-2, 1177, 888, 1452)
panel(900, 1177, 1804, 1452)
T(437, 1199, "Charge Heatmap", 17, TXT, "center", 500)
T(1351, 1199, "Charge Delta", 17, TXT, "center", 500)
clock(768, 1198)
T(781, 1198, "Last 6 months", 14.5, "#33a2e5", "left")
clock(1684, 1198)
T(1697, 1198, "Last 6 months", 14.5, "#33a2e5", "left")

time_tick = dict(visible=True, type="date", tickvals=month_days, tickformat="%m/%d", showgrid=True, gridcolor="#33363b", gridwidth=1, ticks="outside", ticklen=5, tickcolor="rgba(0,0,0,0)", showline=False, zeroline=False)
xa4, ya4 = axes(26, 1241, 860, 1402,
                dict(time_tick, range=["2021-11-21 12:00", "2022-05-21 12:00"], tickfont=dict(family="Roboto", size=13, color="#b8c0cc")),
                dict(visible=True, range=[0, 120], tickvals=[0, 20, 40, 60, 80, 100, 120], showgrid=True, gridcolor="#3a3d42", gridwidth=2, tickfont=dict(family="Roboto", size=13, color="#b8c0cc"), showline=False, ticks="", zeroline=False))
bucket_days = pd.date_range("2021-11-24 10:00", periods=29, freq="6D")
hz = [[heat_cells[b].get(i) for i in range(29)] for b in heat_bins]
fig.add_trace(go.Heatmap(x=[d.isoformat() for d in bucket_days], y=heat_bins, z=hz, zmin=1, zmax=11, xgap=2, ygap=3, showscale=False, hoverinfo="skip", hoverongaps=False,
                         colorscale=[[0, "#2f3a20"], [0.2, "#4f6a18"], [0.4, "#6d9412"], [0.8, "#a0e405"], [1, "#b4ff00"]], xaxis=xa4, yaxis=ya4))

xa5, ya5 = axes(945, 1240, 1774, 1405,
                dict(time_tick, range=["2021-11-21 14:00", "2022-05-21 18:00"], tickfont=dict(family="Roboto", size=14.5, color="#b8c0cc")),
                dict(visible=True, range=[0, 100], tickvals=[0, 25, 50, 75, 100], showgrid=True, gridcolor="#3a3d42", gridwidth=1.5, tickfont=dict(family="Roboto", size=14.5, color="#b8c0cc"), showline=False, ticks="", zeroline=False))
FILL = "rgba(115,191,105,0.4)"
lo_x = delta_lo_head_date + delta_lo_date
lo_y = delta_lo_head_val + delta_lo_val
fig.add_trace(go.Scatter(x=lo_x, y=lo_y, mode="lines", line=dict(width=0), hoverinfo="skip", showlegend=False, xaxis=xa5, yaxis=ya5))
fig.add_trace(go.Scatter(x=delta_up_date, y=delta_up_val, mode="lines", line=dict(width=0), fill="tonexty", fillcolor=FILL, hoverinfo="skip", showlegend=False, xaxis=xa5, yaxis=ya5))
for th in delta_thresholds:
    fig.add_trace(go.Scatter(x=["2021-11-21 14:00", "2022-05-21 18:00"], y=[th, th], mode="lines", line=dict(color="#157a3a", width=3.5), hoverinfo="skip", showlegend=False, xaxis=xa5, yaxis=ya5))

# row 3
panel(-2, 1462, 356, 1964)
panel(368, 1462, 1424, 1964)
panel(1435, 1462, 1805, 1964)
T(170, 1483, "AC/DC – kWh", 17, TXT, "center", 500)
T(896, 1483, "Charging heat map by kWh", 17, TXT, "center", 500)
T(1619, 1483, "AC/DC – Duration", 17, TXT, "center", 500)
pie(170, 1743, 153, pie_kwh_labels, pie_kwh_values, ["#e6bc00", "#5aab4c"])
pie(1619, 1743, 153, pie_dur_labels, pie_dur_values, ["#5aab4c", "#e6bc00"])
rect(0, 1888, 356, 1964, PANEL, None, True)
rect(1436, 1888, 1805, 1964, PANEL, None, True)
T(79, 1751, "AC", 14, TXT)
T(260, 1760, "DC", 14, TXT)
T(1632, 1845, "AC", 14, TXT)
for x0, x1 in [(0, 348), (1447, 1798)]:
    for y in (1895, 1923, 1952):
        hline(x0, x1, y, "#24272c", 2, True)
for nm, v, y in zip(["DC", "AC"], pie_kwh_values, [1909, 1938]):
    rect(10, y - 4, 27, y + 5, "#f2cc0c" if nm == "DC" else GREEN, None, True)
    T(36, y, nm, 15, TXT, "left")
    T(206, y, "2 MWh", 14.5, TXT, "left")
    T(275, y, f"{v}%", 14.5, TXT, "left")
for nm, dur, v, y in zip(pie_dur_labels, ["1 month, 0 weeks", "1 day, 12 hours"], pie_dur_values, [1909, 1938]):
    rect(1459, y - 4, 1475, y + 5, GREEN if nm == "AC" else "#f2cc0c", None, True)
    T(1485, y, nm, 15, TXT, "left")
    T(1583, y, dur, 14.5, TXT, "left")
    T(1722, y, f"{v}%", 14.5, TXT, "left")

rect(378, 1513, 1414, 1953, "#0e0e0e")
xa6, ya6 = axes(378, 1513, 1414, 1953, dict(range=[4.58, 13.67]), dict(range=[43.98, 46.69]))
poly(adri_lon, adri_lat, "#3a3a3a", xa6, ya6)
poly(lig_lon, lig_lat, "#3a3a3a", xa6, ya6)
poly(leman_lon, leman_lat, "#3a3a3a", xa6, ya6)
poly(garda2_lon, garda2_lat, "#3a3a3a", xa6, ya6)
path(motor_lon, motor_lat, "#222222", 1.1, xa6, ya6)
path(minor_lon, minor_lat, "#1b1b1b", 1, xa6, ya6)
path(border_lon, border_lat, "#282828", 1.2, xa6, ya6)
fig.add_trace(go.Scatter(x=dark_lon, y=dark_lat, mode="text", text=dark_names, textposition="middle center", textfont=dict(family="Noto Sans", size=10, color="#505050"),
                         hoverinfo="skip", showlegend=False, xaxis=xa6, yaxis=ya6))
for size, col, lo, la in [(74, "rgba(150,108,52,0.75)", core_lon, core_lat), (56, "rgba(145,105,50,0.8)", core_lon, core_lat), (24, "rgba(200,85,45,0.9)", core_lon, core_lat), (12, "rgba(150,70,40,0.85)", spot_lon, spot_lat)]:
    fig.add_trace(go.Scatter(x=lo, y=la, mode="markers", marker=dict(size=size, color=col, line=dict(width=0)), hoverinfo="skip", showlegend=False, xaxis=xa6, yaxis=ya6))
rect(393, 1528, 429, 1603, "#ffffff", "#cccccc", True)
hline(393, 429, 1565, "#cccccc", 1, True)
T(411, 1546, "+", 28, "#111111", "center", 700)
T(411, 1584, "−", 28, "#111111", "center", 700)
rect(393, 1888, 495, 1941, "rgba(255,255,255,0.85)", None, True)
rect(403, 1888, 425, 1911, "#8c9f60", None, True)
rect(403, 1911, 425, 1933, "#5fb75a", None, True)
T(434, 1898, "50–75", 15, "#555555", "left")
T(434, 1922, "75+", 15, "#555555", "left")

# stats tables
panel(-2, 1975, 207, 2717)
panel(218, 1975, 435, 2717)
panel(447, 1975, 1121, 2717)
panel(1133, 1975, 1806, 2717)
T(97, 1996, "Charge Stats", 17, TXT, "center", 500)
T(326, 1996, "Discharge Stats", 17, TXT, "center", 500)
T(784, 1996, "Top Charging Stations (Charged)", 17, TXT, "center", 500)
T(1470, 1996, "Top Charging Stations (Cost)", 17, TXT, "center", 500)
for a, b in [(0, 207), (219, 435), (448, 1121), (1134, 1806)]:
    rect(a, 2016, b, 2056, HEAD)
T(45, 2036, "SOC", 17, BLUE_H)
T(149, 2036, "# of Ch", 17, BLUE_H, "left")
T(274, 2036, "SOC", 17, BLUE_H)
T(356, 2036, "# of Disch", 17, BLUE_H, "left")
T(454, 2036, "Location", 17, BLUE_H, "left")
T(977, 2036, "Charged", 17, BLUE_H, "left")
T(1140, 2036, "Location", 17, BLUE_H, "left")
T(1664, 2036, "Cost", 17, BLUE_H, "left")
vline(77, 2016, 2717)
vline(305, 2016, 2717)
vline(970, 2016, 2717)
vline(1656, 2016, 2235)
tbl_y = [2078 + 43.85 * i for i in range(15)]
for i, y in enumerate(tbl_y):
    for a, b in [(0, 207), (219, 435), (448, 1121)]:
        hline(a, b, y + 22)
    s = charge_soc[i]
    c = RED if s >= 95 else (YELLOW if s >= 80 else GREEN)
    T(68, y, f"{s}%", 16.5, c, "right")
    T(296, y, f"{discharge_soc[i]}%", 16.5, GREEN, "right")
    T(454, y, stations[i], 16.5, TXT, "left")
    T(977, y, charged[i], 16.5, TXT, "left")
for i in range(4):
    y = tbl_y[i]
    hline(1134, 1806, y + 22)
    T(1140, y, cost_names[i], 16.5, TXT, "left")
    T(1664, y, cost_vals[i], 16.5, TXT, "left")
for a, b, counts, track in [(84, 204, charge_counts, charge_track), (313, 433, discharge_counts, discharge_track)]:
    xb, yb = axes(a, 2056, b, 2714, dict(range=[0, 101]), dict(range=[14.5, -0.5]))
    rows = list(range(15))
    fig.add_trace(go.Bar(x=track, y=rows, orientation="h", width=0.6, marker=dict(color="#26292e", line=dict(width=0), cornerradius=3), hoverinfo="skip", showlegend=False, xaxis=xb, yaxis=yb))
    fig.add_trace(go.Bar(x=counts, y=rows, orientation="h", width=0.6, marker=dict(color=GREEN, line=dict(width=0), cornerradius=3), hoverinfo="skip", showlegend=False, xaxis=xb, yaxis=yb))
for a, b, c, d in [(448, 2195, 703, 2233), (451, 2277, 581, 2317), (446, 2367, 703, 2400), (445, 2413, 572, 2446), (1139, 2149, 1276, 2185)]:
    rect(a, b, c, d, "#ffffff", None, True)

fig.update_layout(template="none", width=W, height=H, autosize=False, margin=dict(l=0, r=0, t=0, b=0, pad=0, autoexpand=False), paper_bgcolor="#ffffff", plot_bgcolor="rgba(0,0,0,0)",
                  barmode="overlay", showlegend=False, shapes=shapes, annotations=notes, font=dict(family="Roboto", color=TXT), hovermode=False)
fig.write_html("out.html", config={"displayModeBar": False}, post_script="document.body.style.margin='0';document.body.style.overflow='hidden';")
